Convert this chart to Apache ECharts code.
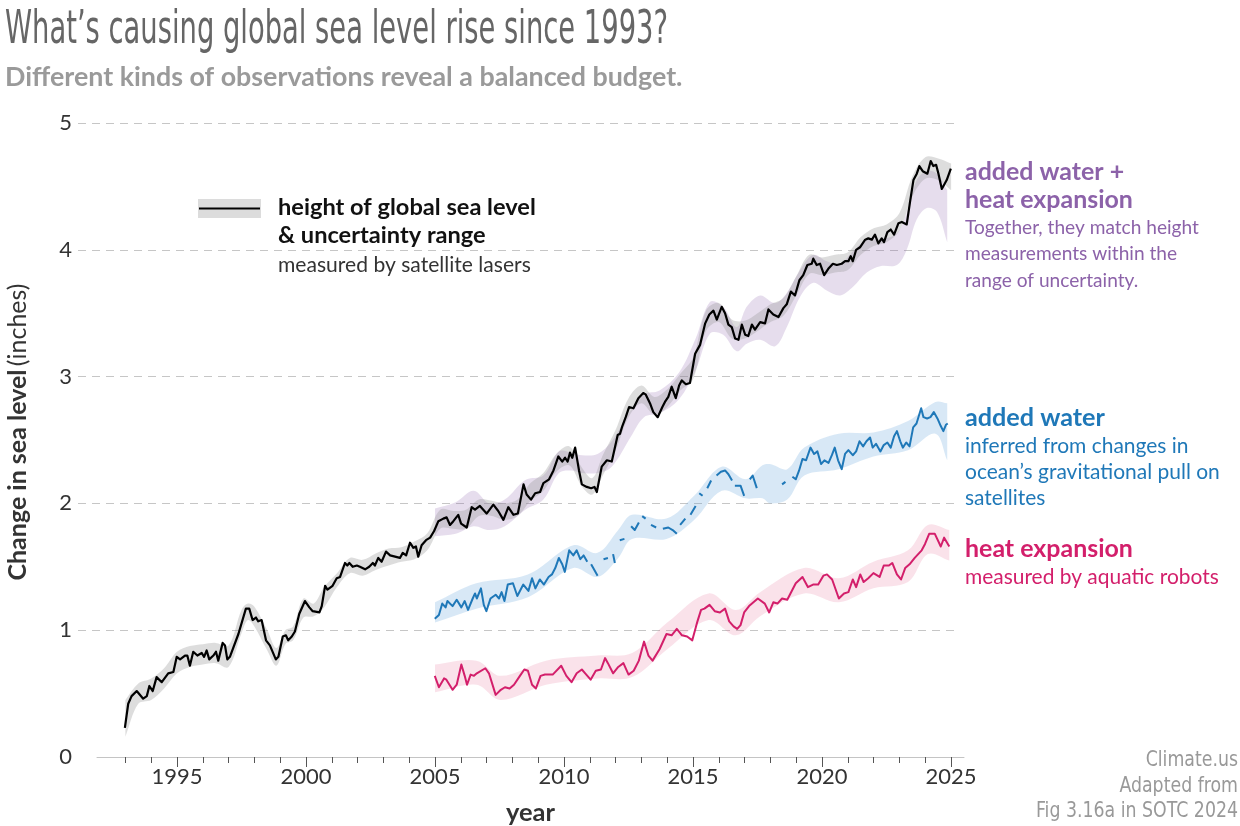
<!DOCTYPE html>
<html><head><meta charset="utf-8">
<script src="https://cdn.jsdelivr.net/npm/echarts@6/dist/echarts.min.js"></script>
<style>html,body{margin:0;padding:0;background:#fff}#c{width:1240px;height:826px}</style>
</head><body><div id="c"></div>
<script>
// ---------------- DATA ----------------
const labelYears = [1995, 2000, 2005, 2010, 2015, 2020, 2025];
const minorTickYears = [1993,1994,1995,1996,1997,1998,1999,2000,2001,2002,2003,2004,2005,2006,2007,2008,2009,2010,2011,2012,2013,2014,2015,2016,2017,2018,2019,2020,2021,2022,2023,2024,2025];

// Global mean sea level (satellite altimetry), inches
const gmslYears = [1992.98,1993.11,1993.24,1993.44,1993.69,1993.83,1993.93,1994.06,1994.21,1994.41,
1994.66,1994.86,1994.99,1995.12,1995.31,1995.40,1995.50,1995.63,1995.79,1995.96,
1996.05,1996.15,1996.25,1996.41,1996.51,1996.60,1996.77,1996.86,1996.95,1997.05,
1997.38,1997.67,1997.80,1997.93,1998.06,1998.15,1998.28,1998.45,1998.60,1998.83,
1998.93,1999.10,1999.22,1999.31,1999.45,1999.57,1999.74,1999.96,2000.13,2000.26,
2000.52,2000.61,2000.74,2000.83,2001.03,2001.19,2001.32,2001.51,2001.60,2001.68,
2001.81,2001.97,2002.09,2002.29,2002.45,2002.59,2002.67,2002.80,2002.93,2003.10,
2003.26,2003.45,2003.64,2003.75,2003.88,2004.03,2004.16,2004.26,2004.35,2004.48,
2004.65,2004.81,2004.96,2005.13,2005.32,2005.45,2005.58,2005.71,2005.90,2006.01,
2006.23,2006.42,2006.55,2006.74,2007.00,2007.26,2007.45,2007.65,2007.84,2008.04,
2008.21,2008.43,2008.55,2008.72,2008.88,2009.07,2009.20,2009.42,2009.59,2009.78,
2009.93,2010.04,2010.14,2010.23,2010.32,2010.43,2010.58,2010.69,2010.88,2011.05,
2011.18,2011.27,2011.46,2011.66,2011.85,2012.08,2012.17,2012.26,2012.39,2012.52,
2012.69,2012.88,2013.07,2013.16,2013.33,2013.46,2013.63,2013.81,2013.91,2014.04,
2014.17,2014.33,2014.46,2014.56,2014.72,2014.88,2015.08,2015.27,2015.47,2015.63,
2015.79,2015.92,2016.11,2016.24,2016.37,2016.50,2016.63,2016.76,2016.89,2017.02,
2017.14,2017.28,2017.40,2017.60,2017.79,2017.92,2018.11,2018.31,2018.50,2018.63,
2018.79,2018.95,2019.12,2019.27,2019.43,2019.60,2019.66,2019.79,2019.92,2020.08,
2020.24,2020.42,2020.57,2020.76,2020.89,2021.02,2021.11,2021.19,2021.32,2021.47,
2021.67,2021.79,2021.93,2022.05,2022.18,2022.31,2022.40,2022.53,2022.66,2022.79,
2022.96,2023.09,2023.28,2023.41,2023.54,2023.67,2023.77,2023.90,2024.08,2024.21,
2024.31,2024.42,2024.51,2024.64,2024.83,2024.99];
const gmslValues = [0.23,0.42,0.48,0.52,0.46,0.48,0.56,0.52,0.63,0.59,
0.66,0.67,0.79,0.77,0.80,0.80,0.72,0.83,0.80,0.82,
0.79,0.84,0.77,0.80,0.83,0.76,0.90,0.88,0.77,0.79,
0.97,1.17,1.17,1.08,1.10,1.07,1.08,0.92,0.88,0.77,
0.79,0.95,0.96,0.92,0.95,0.99,1.13,1.23,1.18,1.15,
1.14,1.19,1.35,1.32,1.35,1.41,1.42,1.53,1.51,1.53,
1.50,1.51,1.50,1.48,1.50,1.53,1.51,1.57,1.54,1.62,
1.59,1.58,1.57,1.61,1.59,1.69,1.65,1.66,1.58,1.67,
1.71,1.73,1.78,1.86,1.88,1.89,1.83,1.86,1.91,1.84,
1.81,1.97,1.95,1.98,1.92,1.99,1.94,1.87,1.97,1.91,
1.92,2.15,2.07,2.03,2.08,2.09,2.16,2.19,2.26,2.37,
2.33,2.36,2.33,2.40,2.36,2.44,2.26,2.15,2.13,2.12,
2.13,2.09,2.29,2.34,2.33,2.54,2.55,2.61,2.68,2.76,
2.75,2.83,2.87,2.86,2.79,2.72,2.68,2.76,2.80,2.84,
2.92,2.83,2.93,2.97,2.94,2.95,3.18,3.25,3.42,3.49,
3.52,3.45,3.55,3.50,3.41,3.39,3.30,3.29,3.41,3.33,
3.32,3.41,3.37,3.43,3.42,3.53,3.49,3.47,3.54,3.57,
3.67,3.64,3.76,3.80,3.88,3.89,3.93,3.88,3.89,3.80,
3.85,3.89,3.88,3.89,3.91,3.91,3.95,3.91,4.00,4.02,
4.08,4.09,4.08,4.12,4.05,4.09,4.06,4.14,4.16,4.12,
4.21,4.22,4.20,4.38,4.55,4.60,4.66,4.62,4.60,4.70,
4.66,4.67,4.60,4.48,4.55,4.64];

// Uncertainty range of the sea level height
const gmslBandYears = [1993.0,1993.5,1994.0,1994.5,1995.0,1995.5,1996.0,1996.5,1997.0,
1997.5,1997.75,1998.0,1998.5,1998.85,1999.2,1999.5,1999.9,
2000.3,2000.7,2001.2,2001.7,2002.2,2002.7,2003.2,2003.7,2004.2,2004.7,
2005.2,2005.7,2006.2,2006.7,2007.2,2007.7,2008.2,2008.7,2009.2,2009.7,2010.2,2010.7,
2011.1,2011.5,2012.0,
2012.5,2013.0,2013.5,2014.0,2014.5,2015.0,2015.5,2016.0,2016.5,2017.0,2017.5,2018.0,2018.5,
2019.0,2019.5,2020.0,2020.5,2021.0,2021.5,2022.0,2022.5,2023.0,2023.5,2024.0,2024.5,2025.0];
const gmslBandLow = [0.16,0.42,0.45,0.54,0.66,0.71,0.73,0.74,0.71,
0.975,1.08,1.03,0.84,0.72,0.89,0.92,1.10,
1.11,1.18,1.34,1.45,1.43,1.475,1.51,1.54,1.56,1.63,
1.80,1.80,1.80,1.90,1.90,1.87,1.90,2.02,2.10,2.25,2.30,2.13,
2.07,2.22,2.42,
2.68,2.79,2.70,2.76,2.89,2.98,3.36,3.43,3.30,3.30,3.36,3.43,3.48,
3.64,3.81,3.80,3.82,3.84,3.96,4.03,4.06,4.15,4.42,4.56,4.55,4.47];
const gmslBandHigh = [0.45,0.58,0.62,0.70,0.83,0.875,0.89,0.90,0.88,
1.16,1.21,1.185,1.00,0.86,1.00,1.03,1.25,
1.21,1.34,1.45,1.57,1.555,1.605,1.645,1.655,1.70,1.765,
1.95,1.94,1.95,2.03,2.02,2.00,2.03,2.16,2.24,2.39,2.45,2.28,
2.20,2.38,2.58,
2.83,2.93,2.84,2.90,3.02,3.15,3.52,3.58,3.45,3.44,3.50,3.57,3.62,
3.79,3.96,3.94,3.96,3.98,4.10,4.17,4.20,4.29,4.58,4.73,4.72,4.68];

// Added water + heat expansion (sum) range
const sumBandYears = [2005.0,2005.8,2006.5,2007.1,2007.7,2008.5,2009.2,2009.8,2010.3,2010.7,
2011.3,2011.85,2012.6,2013.1,2013.7,2014.45,2015.1,2015.66,2016.17,2016.69,
2017.08,2017.6,2018.18,2018.63,2019.15,2019.66,2020.18,2020.7,2021.21,2021.73,
2022.25,2022.9,2023.28,2023.67,2024.06,2024.45,2024.85];
const sumBandLow = [1.74,1.76,1.82,1.79,1.82,1.95,2.03,2.24,2.26,2.24,
2.24,2.29,2.53,2.68,2.71,2.82,3.05,3.34,3.33,3.20,
3.26,3.29,3.24,3.39,3.63,3.74,3.68,3.64,3.71,3.82,
3.87,3.88,4.00,4.24,4.33,4.30,4.06];
const sumBandHigh = [1.96,2.01,2.10,2.00,2.03,2.185,2.22,2.41,2.40,2.38,
2.39,2.49,2.74,2.86,2.89,3.03,3.30,3.59,3.55,3.39,
3.55,3.64,3.58,3.66,3.84,3.96,3.91,3.89,3.99,4.08,
4.08,4.13,4.29,4.55,4.62,4.60,4.47];

// Added water (GRACE), null = missing months
const waterYears = [2004.99,2005.15,2005.28,2005.41,2005.48,2005.68,2005.84,2006.02,2006.15,2006.28,
2006.46,2006.55,2006.62,2006.78,2006.89,2006.99,2007.15,2007.35,2007.48,2007.58,
2007.69,2007.82,2008.02,2008.19,2008.42,2008.62,2008.76,2008.89,2009.06,2009.22,
2009.40,2009.53,2009.66,2009.80,2009.93,2010.03,2010.20,2010.36,2010.49,2010.63,
2010.76,2010.90,2010.97,2011.05,2011.30,2011.42,2011.53,2011.70,2011.80,2011.90,
2011.97,2012.06,2012.16,2012.34,2012.47,2012.60,2012.74,2012.90,2012.96,2013.03,
2013.16,2013.27,2013.37,2013.57,2013.70,2013.83,2014.04,2014.21,2014.37,2014.44,
2014.50,2014.70,2014.80,2014.90,2015.10,2015.17,2015.24,2015.37,2015.46,2015.55,
2015.70,2015.80,2015.91,2016.08,2016.24,2016.37,2016.51,2016.57,2016.62,2016.84,
2016.98,2017.10,2017.20,2017.31,2017.47,2017.90,2018.45,2018.58,2018.72,2018.85,
2018.98,2019.11,2019.24,2019.38,2019.55,2019.69,2019.82,2019.96,2020.09,2020.25,
2020.38,2020.49,2020.62,2020.76,2020.89,2021.02,2021.19,2021.32,2021.45,2021.59,
2021.72,2021.86,2021.96,2022.09,2022.26,2022.39,2022.53,2022.66,2022.79,2022.90,
2023.03,2023.13,2023.26,2023.39,2023.53,2023.66,2023.84,2023.93,2024.07,2024.20,
2024.33,2024.47,2024.60,2024.70,2024.80,2024.87];
const waterValues = [1.09,1.12,1.21,1.18,1.23,1.19,1.24,1.18,1.23,1.16,
1.25,1.29,1.25,1.33,1.20,1.15,1.25,1.28,1.25,1.30,
1.23,1.36,1.37,1.27,1.36,1.31,1.41,1.33,1.40,1.36,
1.42,1.44,1.49,1.57,1.52,1.46,1.63,1.59,1.63,1.56,
1.59,1.54,null,1.52,1.43,null,1.56,1.57,null,1.60,
1.53,null,1.71,1.72,null,1.82,1.79,1.85,null,1.90,
1.88,null,1.83,1.81,null,1.80,1.81,1.79,1.76,null,
1.83,1.88,null,1.91,1.98,null,2.08,2.06,null,2.12,
2.18,null,2.22,2.25,2.26,2.23,2.18,null,2.14,2.14,
2.06,null,2.19,2.22,2.12,null,2.15,2.17,null,2.21,
2.19,2.26,2.35,2.34,2.44,2.39,2.41,2.31,2.34,2.32,
2.38,2.44,2.34,2.27,2.39,2.42,2.38,2.41,2.49,2.45,
2.49,2.52,2.44,2.47,2.41,2.46,2.48,2.44,2.53,2.57,
2.49,2.44,2.48,2.45,2.60,2.63,2.75,2.68,2.67,2.68,
2.72,2.67,2.61,2.57,2.62,2.63];
const waterBandYears = [2005.0,2006.6,2008.6,2010.36,2011.3,2012.1,2012.63,2013.97,2015.04,2016.11,
2017.04,2017.69,2017.98,2018.65,2019.31,2020.64,2021.99,2023.33,2024.39,2024.85];
const waterBandLow = [1.06,1.17,1.26,1.49,1.42,1.57,1.72,1.72,1.87,2.10,
2.04,2.04,2.00,2.03,2.22,2.27,2.37,2.42,2.55,2.34];
const waterBandHigh = [1.22,1.37,1.44,1.67,1.61,1.79,1.91,1.88,2.06,2.29,
2.19,2.30,2.31,2.27,2.44,2.55,2.56,2.65,2.80,2.79];

// Heat expansion (Argo)
const heatYears = [2004.99,2005.15,2005.35,2005.44,2005.68,2005.84,2006.02,2006.15,2006.24,2006.38,
2006.51,2006.62,2006.95,2007.09,2007.35,2007.55,2007.71,2007.89,2008.06,2008.29,
2008.46,2008.60,2008.76,2008.91,2009.09,2009.26,2009.56,2009.89,2010.09,2010.29,
2010.49,2010.69,2010.82,2011.03,2011.23,2011.43,2011.59,2011.70,2011.90,2012.10,
2012.30,2012.50,2012.70,2012.90,2013.10,2013.27,2013.43,2013.70,2013.97,2014.17,
2014.37,2014.57,2014.77,2014.97,2015.17,2015.31,2015.44,2015.64,2015.84,2016.04,
2016.24,2016.40,2016.57,2016.71,2016.84,2016.98,2017.17,2017.51,2017.78,2017.95,
2018.11,2018.27,2018.45,2018.65,2018.98,2019.24,2019.45,2019.65,2019.85,2020.05,
2020.19,2020.39,2020.65,2020.85,2021.02,2021.19,2021.32,2021.48,2021.61,2021.79,
2021.99,2022.23,2022.39,2022.59,2022.72,2022.90,2023.06,2023.22,2023.39,2023.59,
2023.86,2023.99,2024.15,2024.37,2024.60,2024.73,2024.93];
const heatValues = [0.64,0.55,0.62,0.61,0.53,0.57,0.73,0.64,0.57,0.65,
0.64,0.66,0.70,0.66,0.49,0.53,0.55,0.54,0.57,0.64,
0.69,0.68,0.57,0.54,0.64,0.65,0.65,0.72,0.64,0.59,
0.66,0.69,0.66,0.61,0.68,0.69,0.78,0.74,0.66,0.71,
0.74,0.65,0.68,0.76,0.91,0.80,0.76,0.85,0.97,0.96,
1.01,0.96,0.95,0.92,1.07,1.16,1.17,1.20,1.15,1.14,
1.17,1.07,1.03,1.01,1.04,1.14,1.19,1.25,1.21,1.14,
1.22,1.21,1.25,1.24,1.37,1.42,1.34,1.36,1.36,1.43,
1.44,1.40,1.25,1.29,1.30,1.40,1.34,1.44,1.38,1.41,
1.45,1.42,1.51,1.51,1.53,1.44,1.40,1.49,1.52,1.57,
1.63,1.68,1.76,1.76,1.66,1.73,1.66];
const heatBandYears = [2005.0,2006.6,2007.55,2009.3,2011.3,2012.64,2014.0,2015.6,2016.66,2017.6,
2019.3,2020.65,2021.99,2023.33,2024.1,2024.93];
const heatBandLow = [0.51,0.57,0.45,0.57,0.62,0.63,0.85,1.08,0.96,1.11,1.29,1.22,1.33,1.38,1.60,1.55];
const heatBandHigh = [0.73,0.76,0.64,0.76,0.80,0.82,1.06,1.29,1.16,1.30,1.49,1.41,1.54,1.63,1.83,1.79];

// ---------------- STYLE / LAYOUT ----------------
const BODY = "Lato, 'Noto Sans', sans-serif";
const COND = "'Liberation Sans Narrow', 'DejaVu Sans Condensed', 'Roboto Condensed', sans-serif";
const C_PURPLE = '#8c62a9', C_BLUE = '#1f78b8', C_PINK = '#d31f6b';
const X_MIN = 1991.9, X_MAX = 2025.5;

const mctx = document.createElement('canvas').getContext('2d');
function tw(text, weight, size, family) { mctx.font = weight + ' ' + size + 'px ' + family; return mctx.measureText(text).width; }
function fit(text, weight, family, target) { return 100 * target / tw(text, weight, 100, family); }

function pairs(xs, ys) { const n = Math.min(xs.length, ys.length); const out = []; for (let i = 0; i < n; i++) out.push([xs[i], ys[i] == null ? '-' : ys[i]]); return out; }

// Band = filled polygon between the low and high edges, mapped through the axes (api.coord)
function bandSeries(id, xs, low, high, color, z) {
  const n = Math.min(xs.length, low.length, high.length);
  return {
    id, type: 'custom', xAxisIndex: 1, yAxisIndex: 1, silent: true, z, clip: true,
    data: [[xs[0], low[0]]],
    renderItem: function (params, api) {
      const pts = [];
      const up = [], dn = [];
      for (let i = 0; i < n; i++) { up.push(api.coord([xs[i], high[i]])); dn.push(api.coord([xs[i], low[i]])); }
      // duplicate the 4 corner points so the smoothing keeps square ends
      pts.push(up[0]);
      for (let i = 0; i < n; i++) pts.push(up[i]);
      pts.push(up[n - 1]);
      pts.push(dn[n - 1]);
      for (let i = n - 1; i >= 0; i--) pts.push(dn[i]);
      pts.push(dn[0]);
      return { type: 'polygon', shape: { points: pts, smooth: 0.35 }, style: { fill: color } };
    }
  };
}
function lineSeries(id, xs, ys, color, w) {
  return { id, type: 'line', xAxisIndex: 1, yAxisIndex: 1, data: pairs(xs, ys), symbol: 'none', connectNulls: false, silent: true, z: 5,
    lineStyle: { color, width: w, join: 'round' } };
}
function txt(x, y, text, size, weight, color, family, align, sx) {
  return { type: 'text', x, y, scaleX: sx || 1, silent: true, z: 10,
    style: { text, fontSize: size, fontWeight: weight, fontFamily: family, fill: color, textAlign: align || 'left', textVerticalAlign: 'middle' } };
}

const axisSize = fit('2025', 'normal', BODY, 51);
const titleText = 'What\u2019s causing global sea level rise since 1993?';
const titleScale = 663 / tw(titleText, 'normal', 46, COND);
const subText = 'Different kinds of observations reveal a balanced budget.';
const subSize = fit(subText, 'bold', BODY, 678);
const legBold = fit('height of global sea level', 'bold', BODY, 258);
const legReg = fit('measured by satellite lasers', 'normal', BODY, 253);
const purBold = fit('heat expansion', 'bold', BODY, 168);
const purReg = fit('Together, they match height', 'normal', BODY, 234);
const bluBold = fit('added water', 'bold', BODY, 140);
const bluReg = fit('ocean\u2019s gravitational pull on', 'normal', BODY, 255);
const pnkBold = fit('heat expansion', 'bold', BODY, 168);
const pnkReg = fit('measured by aquatic robots', 'normal', BODY, 254);
const credSize = 21;
const credScale = 202 / tw('Fig 3.16a in SOTC 2024', 'normal', credSize, COND);
const yearSize = fit('year', 'bold', BODY, 49);
const yNameSize = 100 * 300 / (tw('Change in sea level ', 'bold', 100, BODY) + tw('(inches)', 'normal', 100, BODY));

const chart = echarts.init(document.getElementById('c'), null, { renderer: 'canvas', width: 1240, height: 826 });
const option = {
  animation: false,
  backgroundColor: '#fff',
  grid: [
    { left: 78, right: 282, top: 123, height: 507.2, containLabel: false, outerBoundsMode: 'none' },
    { left: 97, right: 276, top: 123, height: 634, containLabel: false, outerBoundsMode: 'none' }
  ],
  xAxis: [
    { gridIndex: 0, type: 'value', min: X_MIN, max: X_MAX, show: false, position: 'bottom' },
    { gridIndex: 1, type: 'value', min: X_MIN, max: X_MAX, position: 'bottom',
      axisLine: { show: true, onZero: false, lineStyle: { color: '#c4c4c4', width: 1 } },
      axisTick: { show: true, customValues: minorTickYears, length: 6, lineStyle: { color: '#555', width: 1 } },
      axisLabel: { show: false }, splitLine: { show: false } },
    { gridIndex: 1, type: 'value', min: X_MIN, max: X_MAX, position: 'bottom', offset: 0,
      axisLine: { show: false, onZero: false },
      axisTick: { show: true, customValues: labelYears, length: 10, lineStyle: { color: '#555', width: 1 } },
      axisLabel: { show: true, customValues: labelYears, formatter: v => String(v), fontSize: axisSize, fontFamily: BODY, color: '#333', margin: 9 },
      splitLine: { show: false },
      name: 'year', nameLocation: 'middle', nameGap: 43,
      nameTextStyle: { fontSize: yearSize, fontWeight: 'bold', fontFamily: BODY, color: '#333' } }
  ],
  yAxis: [
    { gridIndex: 0, type: 'value', min: 1, max: 5, interval: 1,
      axisLine: { show: false }, axisTick: { show: false }, axisLabel: { show: false },
      splitLine: { show: true, lineStyle: { color: '#c6c6c6', width: 1, type: [8, 6] } } },
    { gridIndex: 1, type: 'value', min: 0, max: 5, interval: 1,
      axisLine: { show: false }, axisTick: { show: false }, splitLine: { show: false },
      axisLabel: { fontSize: axisSize, fontFamily: BODY, color: '#333', margin: 25 } }
  ],
  series: [
    bandSeries('sumBand', sumBandYears, sumBandLow, sumBandHigh, 'rgba(140,100,175,0.22)', 1),
    bandSeries('waterBand', waterBandYears, waterBandLow, waterBandHigh, 'rgba(100,165,220,0.25)', 1),
    bandSeries('heatBand', heatBandYears, heatBandLow, heatBandHigh, 'rgba(232,110,150,0.2)', 1),
    bandSeries('gmslBand', gmslBandYears, gmslBandLow, gmslBandHigh, 'rgba(150,150,150,0.32)', 2),
    lineSeries('heatLine', heatYears, heatValues, C_PINK, 2),
    lineSeries('waterLine', waterYears, waterValues, C_BLUE, 2),
    lineSeries('gmslLine', gmslYears, gmslValues, '#000', 2.2)
  ],
  graphic: [
    txt(5, 31, titleText, 46, 'normal', '#666', COND, 'left', titleScale),
    txt(5, 77, subText, subSize, 'bold', '#9a9a9a', BODY, 'left'),
    // legend
    { type: 'rect', silent: true, z: 10, shape: { x: 198, y: 199, width: 63, height: 19 }, style: { fill: '#dcdcdc' } },
    { type: 'line', silent: true, z: 11, shape: { x1: 199, y1: 208.5, x2: 260, y2: 208.5 }, style: { stroke: '#000', lineWidth: 2 } },
    txt(278, 207, 'height of global sea level', legBold, 'bold', '#111', BODY),
    txt(278, 235, '& uncertainty range', legBold, 'bold', '#111', BODY),
    txt(278, 265, 'measured by satellite lasers', legReg, 'normal', '#333', BODY),
    // purple
    txt(965, 172, 'added water +', purBold, 'bold', C_PURPLE, BODY),
    txt(965, 200, 'heat expansion', purBold, 'bold', C_PURPLE, BODY),
    txt(965, 228, 'Together, they match height', purReg, 'normal', C_PURPLE, BODY),
    txt(965, 254, 'measurements within the', purReg, 'normal', C_PURPLE, BODY),
    txt(965, 281, 'range of uncertainty.', purReg, 'normal', C_PURPLE, BODY),
    // blue
    txt(965, 418, 'added water', bluBold, 'bold', C_BLUE, BODY),
    txt(965, 446, 'inferred from changes in', bluReg, 'normal', C_BLUE, BODY),
    txt(965, 472, 'ocean\u2019s gravitational pull on', bluReg, 'normal', C_BLUE, BODY),
    txt(965, 498, 'satellites', bluReg, 'normal', C_BLUE, BODY),
    // pink
    txt(965, 549, 'heat expansion', pnkBold, 'bold', C_PINK, BODY),
    txt(965, 577, 'measured by aquatic robots', pnkReg, 'normal', C_PINK, BODY),
    // credit
    txt(1238, 761, 'Climate.us', credSize, 'normal', '#999', COND, 'right', credScale),
    txt(1238, 787, 'Adapted from', credSize, 'normal', '#999', COND, 'right', credScale),
    txt(1238, 812, 'Fig 3.16a in SOTC 2024', credSize, 'normal', '#999', COND, 'right', credScale),
    // y axis name
    { type: 'text', x: 18, y: 432, rotation: Math.PI / 2, silent: true, z: 10,
      style: { text: '{b|Change in sea level} {r|(inches)}', textAlign: 'center', textVerticalAlign: 'middle', fill: '#333',
        rich: { b: { fontSize: yNameSize, fontWeight: 'bold', fontFamily: BODY, fill: '#333' },
                r: { fontSize: yNameSize, fontWeight: 'normal', fontFamily: BODY, fill: '#333' } } } }
  ]
};
chart.setOption(option);
</script>
</body></html>
